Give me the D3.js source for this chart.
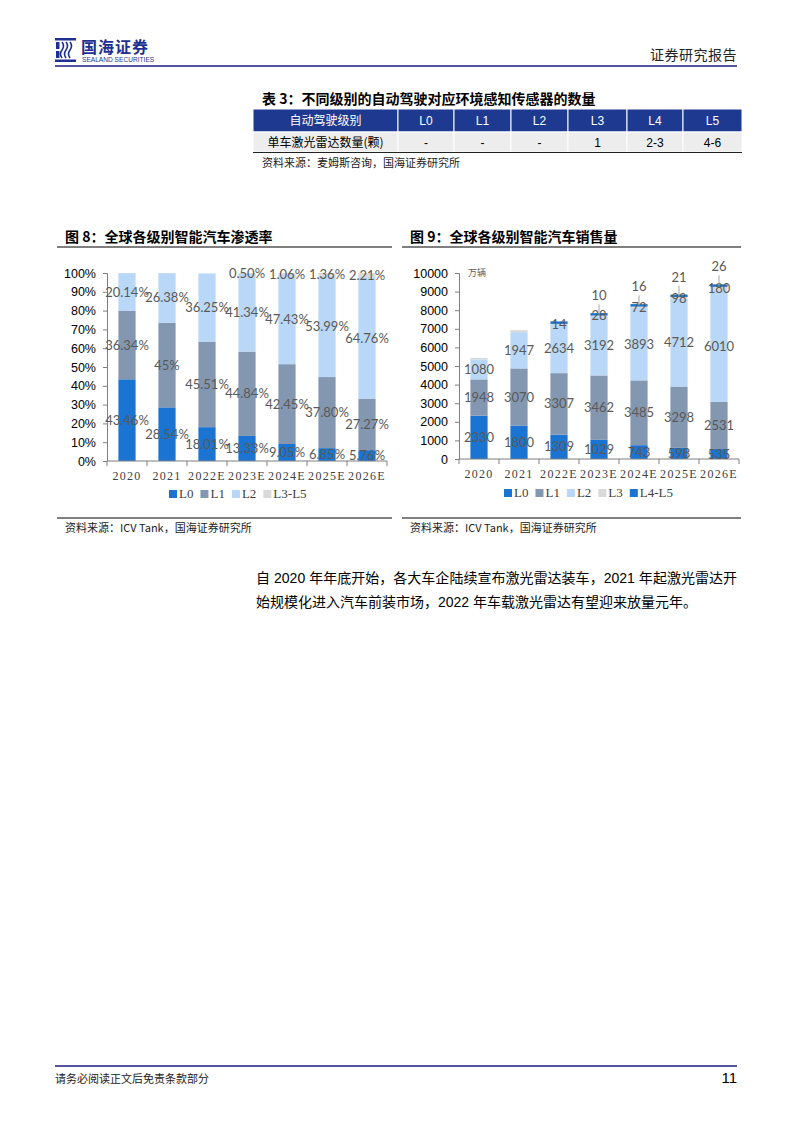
<!DOCTYPE html>
<html><head><meta charset="utf-8">
<script src="https://cdn.jsdelivr.net/npm/d3@7"></script>
<style>
html,body{margin:0;padding:0;background:#fff;}
svg{display:block;}
</style></head>
<body>
<svg id="page" width="794" height="1123"></svg>
<script>
// ---------- data ----------
const years = ["2020","2021","2022E","2023E","2024E","2025E","2026E"];
// Figure 8: penetration (%)
const penL0 = [43.46, 28.54, 18.01, 13.33, 9.05, 6.85, 5.76];
const penL1 = [36.34, 45, 45.51, 44.84, 42.45, 37.80, 27.27];
const penL2 = [20.14, 26.38, 36.25, 41.34, 47.43, 53.99, 64.76];
const penL35 = [0, 0, 0, 0.50, 1.06, 1.36, 2.21];
const penTicks = [0,10,20,30,40,50,60,70,80,90,100];
// Figure 9: sales (万辆)
const salL0 = [2330, 1800, 1309, 1029, 743, 598, 535];
const salL1 = [1948, 3070, 3307, 3462, 3485, 3298, 2531];
const salL2 = [1080, 1947, 2634, 3192, 3893, 4712, 6010];
const salL3 = [75, 110, 14, 28, 72, 98, 180];
const salL45 = [0, 0, 4, 10, 16, 21, 26];
const salL3Shown = [false, false, true, true, true, true, true];
const salL45Shown = [false, false, false, true, true, true, true];
const salTicks = [0,1000,2000,3000,4000,5000,6000,7000,8000,9000,10000];
// Table 3
const tableHeader = ["自动驾驶级别","L0","L1","L2","L3","L4","L5"];
const tableRow = ["单车激光雷达数量(颗)","-","-","-","1","2-3","4-6"];

const colors = {L0:"#1b74d2", L1:"#8497b0", L2:"#b9d7f6", L3:"#d9d9d9", L45:"#1b74d2"};
const navy = "#1a1f7a";
const CJK = "'Noto Sans CJK SC','Noto Sans',sans-serif";
const ARIAL = "'Liberation Sans',Arial,sans-serif";
const SERIF = "'Liberation Serif','Times New Roman',serif";
const LBL = "Lato,'Open Sans',sans-serif";

const svg = d3.select("#page");

// ---------- header ----------
const logo = svg.append("g");
const icon = logo.append("g").attr("fill", "#1e3190");
icon.append("rect").attr("x",55).attr("y",38).attr("width",21).attr("height",2.5);
icon.append("rect").attr("x",55).attr("y",59.5).attr("width",21).attr("height",2.5);
icon.append("path").attr("d","M56 42 h3.5 v7 h-3.5z M56 51 h3.5 v7 h-3.5z");
icon.append("path").attr("fill","none").attr("stroke","#1e3190").attr("stroke-width",1.6)
  .attr("d","M62 42 q3 4 0 8 q-3 4 0 8 M66 42 q3 4 0 8 q-3 4 0 8 M70 42 q3 4 0 8 q-3 4 0 8");
logo.append("text").attr("x",81).attr("y",53).attr("font-family",CJK).attr("font-weight",700)
  .attr("font-size",16).attr("fill","#1e3190").attr("letter-spacing",1).text("国海证券");
logo.append("text").attr("x",82).attr("y",62).attr("font-family",ARIAL)
  .attr("font-size",6.6).attr("fill","#1e3190").text("SEALAND SECURITIES");
svg.append("text").attr("x",737).attr("y",60).attr("text-anchor","end").attr("font-family",CJK)
  .attr("font-size",14).attr("fill","#222").attr("letter-spacing",0.5).text("证券研究报告");
svg.append("line").attr("x1",55).attr("x2",737).attr("y1",66).attr("y2",66).attr("stroke",navy).attr("stroke-width",1.5);

// ---------- table ----------
svg.append("text").attr("x",262).attr("y",104).attr("font-family",CJK).attr("font-weight",700)
  .attr("font-size",14).attr("fill","#000").text("表 3：不同级别的自动驾驶对应环境感知传感器的数量");
const colEdges = [253, 398, 454, 511, 568, 627, 683, 742];
const tbl = svg.append("g");
tableHeader.forEach((t,i)=>{
  const x0 = colEdges[i], x1 = colEdges[i+1];
  tbl.append("rect").attr("x",x0).attr("y",109).attr("width",x1-x0).attr("height",23).attr("fill","#1d3a90")
    .attr("stroke","#fff").attr("stroke-width",1);
  tbl.append("text").attr("x",(x0+x1)/2).attr("y",125).attr("text-anchor","middle")
    .attr("font-family", i===0?CJK:ARIAL).attr("font-size",12).attr("fill","#fff").text(t);
});
tableRow.forEach((t,i)=>{
  const x0 = colEdges[i], x1 = colEdges[i+1];
  tbl.append("rect").attr("x",x0).attr("y",132).attr("width",x1-x0).attr("height",20).attr("fill","#ededed")
    .attr("stroke","#fff").attr("stroke-width",1);
  tbl.append("text").attr("x",(x0+x1)/2).attr("y",147).attr("text-anchor","middle")
    .attr("font-family", i===0?CJK:ARIAL).attr("font-size",12).attr("fill","#000").text(t);
});
svg.append("line").attr("x1",253).attr("x2",742).attr("y1",152.5).attr("y2",152.5).attr("stroke","#222").attr("stroke-width",1);
svg.append("text").attr("x",262).attr("y",167).attr("font-family",CJK).attr("font-size",11).attr("fill","#222")
  .text("资料来源：麦姆斯咨询，国海证券研究所");

// ---------- figure titles / frames ----------
function frame(x0, x1, title, source){
  svg.append("text").attr("x",x0+8).attr("y",242).attr("font-family",CJK).attr("font-weight",700)
    .attr("font-size",14).attr("fill","#000").text(title);
  svg.append("line").attr("x1",x0).attr("x2",x1).attr("y1",247).attr("y2",247).attr("stroke","#000").attr("stroke-width",1.2);
  svg.append("line").attr("x1",x0).attr("x2",x1).attr("y1",518).attr("y2",518).attr("stroke","#000").attr("stroke-width",1);
  svg.append("text").attr("x",x0+8).attr("y",532).attr("font-family",CJK).attr("font-size",11).attr("fill","#222").text(source);
}
frame(57, 392, "图 8：全球各级别智能汽车渗透率", "资料来源：ICV Tank，国海证券研究所");
frame(402, 741, "图 9：全球各级别智能汽车销售量", "资料来源：ICV Tank，国海证券研究所");

// ---------- generic stacked chart ----------
function stackedChart(opts){
  const g = svg.append("g");
  const x = d3.scaleBand().domain(years).range([opts.x0, opts.x1]).paddingInner(0.57).paddingOuter(0.285);
  const y = d3.scaleLinear().domain(opts.domain).range([opts.yBottom, opts.yTop]);
  const rows = years.map((yr,i)=>{ const r = {year:yr}; opts.series.forEach(s=>r[s.key]=s.values[i]); return r; });
  const stack = d3.stack().keys(opts.series.map(s=>s.key))(rows);
  const yAxis = g.append("g").attr("transform",`translate(${opts.x0},0)`)
    .call(d3.axisLeft(y).tickValues(opts.ticks).tickSize(4).tickPadding(7).tickFormat(opts.tickFormat));
  yAxis.select(".domain").attr("stroke","#7f7f7f");
  yAxis.selectAll(".tick line").attr("stroke","#7f7f7f");
  yAxis.selectAll("text").attr("font-family",ARIAL).attr("font-size",12.5).attr("fill","#000");
  stack.forEach((layer,li)=>{
    const s = opts.series[li];
    const hOf = d => { const h = y(d[0])-y(d[1]); return s.minH && d[1]>d[0] ? Math.max(h, s.minH) : Math.max(0,h); };
    g.append("g").selectAll("rect").data(layer).join("rect")
      .attr("x", d=>x(d.data.year)).attr("width", x.bandwidth())
      .attr("y", d=> y(d[0]) - hOf(d))
      .attr("height", hOf)
      .attr("fill", s.color);
  });
  const step = x.step();
  const xAxis = g.append("g").attr("transform",`translate(0,${opts.yBottom})`);
  xAxis.append("line").attr("x1",opts.x0).attr("x2",opts.x1).attr("stroke","#7f7f7f");
  const tickX = i => i===0 ? opts.x0 : Math.min(opts.x1, x(years[0]) + x.bandwidth()/2 - step/2 + i*step);
  xAxis.selectAll("line.tk").data(d3.range(years.length+1)).join("line").attr("class","tk")
    .attr("x1", tickX).attr("x2", tickX).attr("y1",0).attr("y2",5).attr("stroke","#7f7f7f");
  xAxis.selectAll("text").data(years).join("text")
    .attr("x", d=>x(d)+x.bandwidth()/2).attr("y",19).attr("text-anchor","middle")
    .attr("font-family",SERIF).attr("font-size",12).attr("letter-spacing",1.3).attr("fill","#404040").text(d=>d);
  stack.forEach((layer,li)=>{
    const s = opts.series[li];
    layer.forEach((d,i)=>{
      if(!s.shown[i]) return;
      const v = s.values[i];
      const cx = x(d.data.year)+x.bandwidth()/2;
      if(s.leader){
        const top = y(d[1]);
        g.append("line").attr("x1",cx).attr("x2",cx)
          .attr("y1",top-11).attr("y2",top-1).attr("stroke","#a6a6a6").attr("stroke-width",1);
        g.append("text").attr("x",cx).attr("y",top-15).attr("text-anchor","middle")
          .attr("font-family",LBL).attr("font-size",13).attr("fill","#595959").text(opts.fmt(v));
      } else {
        g.append("text").attr("x",cx).attr("y",y((d[0]+d[1])/2)).attr("dy","0.35em")
          .attr("text-anchor","middle").attr("font-family",LBL).attr("font-size",13).attr("fill","#595959").text(opts.fmt(v));
      }
    });
  });
  const lg = g.append("g").attr("transform",`translate(${opts.legendX},${opts.legendY})`);
  let lx = 0;
  opts.series.forEach(s=>{
    lg.append("rect").attr("x",lx).attr("y",-8).attr("width",8).attr("height",8).attr("fill",s.legendColor||s.color);
    const t = lg.append("text").attr("x",lx+10).attr("y",0).attr("font-family",SERIF).attr("font-size",13)
      .attr("fill","#404040").text(s.name);
    lx += 10 + t.node().getComputedTextLength() + 7;
  });
  return g;
}

const pctFmt = v => (Number.isInteger(v) ? v : v.toFixed(2)) + "%";
const all = years.map(()=>true);

stackedChart({
  x0:107, x1:387, yTop:273, yBottom:461, domain:[0,100], ticks:penTicks,
  tickFormat: d=>d+"%", fmt: pctFmt, legendX:169, legendY:498,
  series:[
    {key:"L0", name:"L0", values:penL0, color:colors.L0, shown:all},
    {key:"L1", name:"L1", values:penL1, color:colors.L1, shown:all},
    {key:"L2", name:"L2", values:penL2, color:colors.L2, shown:all},
    {key:"L35", name:"L3-L5", values:penL35, color:colors.L3, shown:penL35.map(v=>v>0)}
  ]
});

stackedChart({
  x0:459, x1:739, yTop:273, yBottom:459, domain:[0,10000], ticks:salTicks,
  tickFormat: d=>String(d), fmt: v=>String(Math.round(v)), legendX:504, legendY:497,
  series:[
    {key:"L0", name:"L0", values:salL0, color:colors.L0, shown:all},
    {key:"L1", name:"L1", values:salL1, color:colors.L1, shown:all},
    {key:"L2", name:"L2", values:salL2, color:colors.L2, shown:all},
    {key:"L3", name:"L3", values:salL3, color:colors.L3, shown:salL3Shown},
    {key:"L45", name:"L4-L5", values:salL45, color:colors.L45, shown:salL45Shown, leader:true, minH:2.5}
  ]
});
svg.append("text").attr("x",468).attr("y",276).attr("font-family",CJK).attr("font-size",9).attr("fill","#595959").text("万辆");

// ---------- paragraph ----------
const para = svg.append("g").attr("font-family",`'Liberation Sans',${CJK}`).attr("font-size",14).attr("fill","#000");
para.append("text").attr("x",256).attr("y",583).attr("textLength",481).attr("lengthAdjust","spacing")
  .text("自 2020 年年底开始，各大车企陆续宣布激光雷达装车，2021 年起激光雷达开");
para.append("text").attr("x",256).attr("y",607)
  .text("始规模化进入汽车前装市场，2022 年车载激光雷达有望迎来放量元年。");

// ---------- footer ----------
svg.append("line").attr("x1",55).attr("x2",737).attr("y1",1066).attr("y2",1066).attr("stroke",navy).attr("stroke-width",1.5);
svg.append("text").attr("x",55).attr("y",1083).attr("font-family",CJK).attr("font-size",11).attr("fill","#222").text("请务必阅读正文后免责条款部分");
svg.append("text").attr("x",737).attr("y",1083).attr("text-anchor","end").attr("font-family",ARIAL).attr("font-size",15).attr("fill","#000").text("11");
</script>
</body></html>
